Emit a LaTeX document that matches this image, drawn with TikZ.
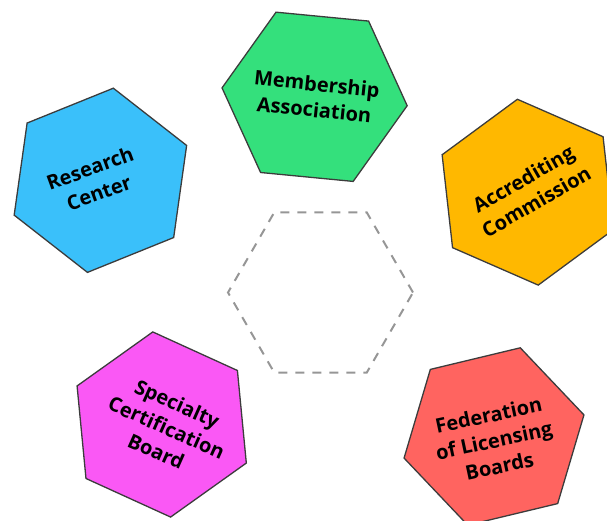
\documentclass[tikz,border=0pt]{standalone}
\usepackage{fontspec}
\setmainfont{Open Sans}
\usetikzlibrary{calc}
\definecolor{hexgreen}{RGB}{52,224,124}
\definecolor{hexblue}{RGB}{58,192,250}
\definecolor{hexorange}{RGB}{255,184,0}
\definecolor{hexmagenta}{RGB}{250,88,245}
\definecolor{hexred}{RGB}{255,100,96}
\definecolor{hexborder}{RGB}{60,60,60}
\definecolor{dashgray}{RGB}{150,150,150}
\newcommand\hexshape[3]{(#1) +(#2:#3) -- +(#2+60:#3) -- +(#2+120:#3) -- +(#2+180:#3) -- +(#2+240:#3) -- +(#2+300:#3) -- cycle}
\tikzset{
  hexbox/.style={draw=hexborder, line width=1.3pt, line join=miter},
  dashhex/.style={draw=dashgray, line width=2pt, dash pattern=on 9pt off 8pt},
  lab/.style={align=center, font=\fontsize{20}{26}\selectfont\bfseries, text=black, inner sep=0pt}
}
\begin{document}
\begin{tikzpicture}[x=1pt,y=1pt]
\useasboundingbox (0,0) rectangle (607,521);
\coordinate (cmemb) at (314.6,424.2);
\coordinate (cres) at (100.4,340.7);
\coordinate (cacc) at (527.8,328.8);
\coordinate (cspec) at (161.7,96.5);
\coordinate (cfed) at (494,84.5);
\coordinate (cmid) at (320.5,228.5);
\draw[dashhex] \hexshape{cmid}{0}{92.5pt};
\fill[hexgreen] \hexshape{cmemb}{-5.5}{93pt};
\draw[hexbox] \hexshape{cmemb}{-5.5}{93pt};
\fill[hexblue] \hexshape{cres}{22}{93pt};
\draw[hexbox] \hexshape{cres}{22}{93pt};
\fill[hexorange] \hexshape{cacc}{36.4}{93.5pt};
\draw[hexbox] \hexshape{cacc}{36.4}{93.5pt};
\fill[hexmagenta] \hexshape{cspec}{35.5}{93pt};
\draw[hexbox] \hexshape{cspec}{35.5}{93pt};
\fill[hexred] \hexshape{cfed}{13.5}{92.5pt};
\draw[hexbox] \hexshape{cfed}{13.5}{92.5pt};
\node[lab, rotate=-6] (memb) at ($(cmemb)+(1,0)$) {Membership\\Association};
\node[lab, rotate=20] (res) at ($(cres)+(-6,0)$) {Research\\Center};
\node[lab, rotate=30] (acc) at ($(cacc)+(2,2)$) {Accrediting\\Commission};
\node[lab, rotate=-24] (spec) at ($(cspec)+(5,-3)$) {Specialty\\Certification\\Board};
\node[lab, rotate=12] (fed) at ($(cfed)+(0,-4)$) {Federation\\of Licensing\\Boards};
\end{tikzpicture}
\end{document}
